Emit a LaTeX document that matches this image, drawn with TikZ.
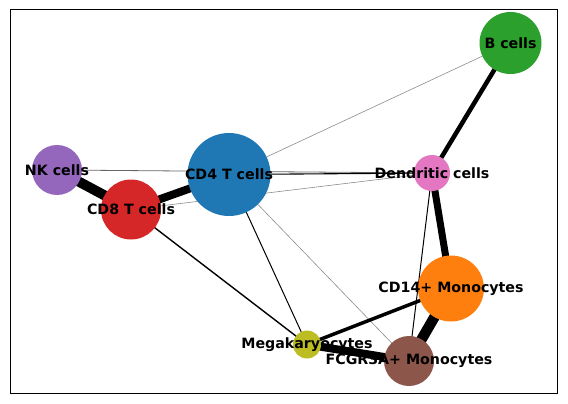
\documentclass[tikz,border=0pt]{standalone}
\usepackage{fontspec}
\setmainfont{DejaVu Sans}
\definecolor{tblue}{HTML}{1F77B4}
\definecolor{torange}{HTML}{FF7F0E}
\definecolor{tgreen}{HTML}{2CA02C}
\definecolor{tred}{HTML}{D62728}
\definecolor{tpurple}{HTML}{9467BD}
\definecolor{tbrown}{HTML}{8C564B}
\definecolor{tpink}{HTML}{E377C2}
\definecolor{tolive}{HTML}{BCBD22}
\begin{document}
\begin{tikzpicture}[x=1pt,y=-1pt,
  cell/.style={circle,inner sep=0pt,draw=none},
  lab/.style={font=\bfseries\fontsize{14.2}{15}\selectfont,inner sep=0pt},
  ed/.style={line width=#1,black},
  faint/.style={line width=0.6pt,black!45}]
\useasboundingbox (0,0) rectangle (568,404);
\draw[line width=1pt] (10,10) rectangle (557.5,393);
% node coordinates
\coordinate (B) at (510.5,43);
\coordinate (NK) at (57,170);
\coordinate (CD8) at (131,209.5);
\coordinate (CD4) at (229,174.5);
\coordinate (DC) at (432,173);
\coordinate (C14) at (451,288.5);
\coordinate (MK) at (307,344.5);
\coordinate (FC) at (409,361);
% edges
\draw[faint] (CD4) -- (B);
\draw[faint] (CD4) -- (FC);
\draw[faint] (CD8) -- (DC);
\draw[line width=0.8pt,black!60] (NK) -- (DC);
\draw[ed=1.1pt] (CD4) -- (DC);
\draw[ed=1pt] (CD4) -- (MK);
\draw[ed=1.4pt] (CD8) -- (MK);
\draw[ed=1pt] (DC) -- (FC);
\draw[ed=4.5pt] (DC) -- (B);
\draw[ed=7pt] (DC) -- (C14);
\draw[ed=3.5pt] (C14) -- (MK);
\draw[ed=10.5pt] (C14) -- (FC);
\draw[ed=8pt] (MK) -- (FC);
\draw[ed=10pt] (NK) -- (CD8);
\draw[ed=8pt] (CD8) -- (CD4);
% nodes
\node[cell,fill=tgreen,minimum size=62pt] (nB) at (B) {};
\node[cell,fill=tpurple,minimum size=50pt] (nNK) at (NK) {};
\node[cell,fill=tred,minimum size=60pt] (nCD8) at (CD8) {};
\node[cell,fill=tblue,minimum size=83pt] (nCD4) at (CD4) {};
\node[cell,fill=tpink,minimum size=36pt] (nDC) at (DC) {};
\node[cell,fill=torange,minimum size=66pt] (nC14) at (C14) {};
\node[cell,fill=tolive,minimum size=28pt] (nMK) at (MK) {};
\node[cell,fill=tbrown,minimum size=50pt] (nFC) at (FC) {};
% labels
\node[lab] (lB) at (B) {B cells};
\node[lab] (lNK) at (NK) {NK cells};
\node[lab] (lCD8) at (CD8) {CD8 T cells};
\node[lab] (lCD4) at (CD4) {CD4 T cells};
\node[lab] (lDC) at (DC) {Dendritic cells};
\node[lab] (lC14) at (C14) {CD14+ Monocytes};
\node[lab] (lMK) at (MK) {Megakaryocytes};
\node[lab] (lFC) at (FC) {FCGR3A+ Monocytes};
\end{tikzpicture}
\end{document}
